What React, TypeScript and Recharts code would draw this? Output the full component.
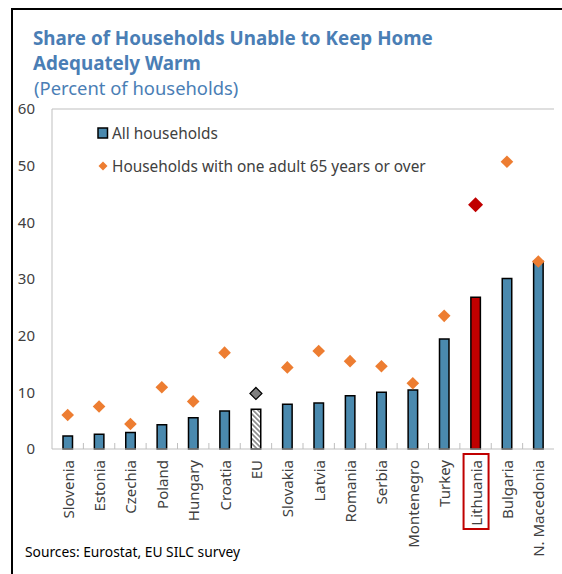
import React from "react"
import { ComposedChart, Bar, Scatter, Cell, XAxis, YAxis, ReferenceLine, Legend } from "recharts"

// values
const COUNTRIES = [
  "Slovenia", "Estonia", "Czechia", "Poland", "Hungary", "Croatia", "EU", "Slovakia",
  "Latvia", "Romania", "Serbia", "Montenegro", "Turkey", "Lithuania", "Bulgaria", "N. Macedonia",
]
const ALL_HOUSEHOLDS = [2.3, 2.6, 2.9, 4.3, 5.5, 6.7, 7.0, 7.9, 8.1, 9.4, 10.0, 10.4, 19.4, 26.8, 30.1, 33.1]
const ONE_ADULT_65 = [6.0, 7.5, 4.4, 10.9, 8.4, 17.0, 9.8, 14.4, 17.3, 15.5, 14.6, 11.6, 23.5, 43.1, 50.7, 33.1]
const Y_TICKS = [0, 10, 20, 30, 40, 50, 60]

const HIGHLIGHT = "Lithuania"
const AGGREGATE = "EU"

const BLUE = "#4a89ae"
const ORANGE = "#ed7d31"
const RED = "#c00000"
const FRAME = "#bfbfbf"
const TEXT = "#404040"
const TITLE = "#4a7eb5"
const FONT = "'Noto Sans', sans-serif"

const data = COUNTRIES.map((country, i) => ({
  country,
  all: ALL_HOUSEHOLDS[i],
  older: ONE_ADULT_65[i],
}))

function CountryTick(props: any) {
  const { x, y, payload, index, width, visibleTicksCount } = props
  const half = payload.offset ?? width / visibleTicksCount / 2
  const label = payload.value as string
  const isHighlight = label === HIGHLIGHT
  return (
    <g>
      {index > 0 && <line x1={x - half} x2={x - half} y1={y} y2={y - 6} stroke={FRAME} strokeWidth={1} />}
      <text
        x={x}
        y={y + 11}
        transform={`rotate(-90, ${x}, ${y + 11})`}
        textAnchor="end"
        dominantBaseline="central"
        fill={TEXT}
        fontSize={15}
        fontFamily={FONT}
      >
        {label}
      </text>
      {isHighlight && (
        <rect x={x - 12} y={y + 5} width={25} height={75} fill="none" stroke={RED} strokeWidth={2} />
      )}
    </g>
  )
}

function Diamond(props: any) {
  const { cx, cy, payload } = props
  if (cx == null || cy == null) return null
  let r = 6.3
  let fill = ORANGE
  let stroke = "none"
  if (payload.country === HIGHLIGHT) {
    r = 7.5
    fill = RED
  } else if (payload.country === AGGREGATE) {
    r = 6
    fill = "#7f7f7f"
    stroke = "#000"
  }
  return (
    <polygon
      points={`${cx},${cy - r} ${cx + r},${cy} ${cx},${cy + r} ${cx - r},${cy}`}
      fill={fill}
      stroke={stroke}
      strokeWidth={1.2}
    />
  )
}

function LegendBox() {
  const itemStyle: React.CSSProperties = {
    display: "flex",
    alignItems: "center",
    height: 22,
    fontFamily: FONT,
    fontSize: 15.4,
    color: TEXT,
    whiteSpace: "nowrap",
  }
  return (
    <div>
      <div style={itemStyle}>
        <svg width={14} height={12} style={{ marginRight: 2 }}>
          <rect x={2} y={1} width={9.5} height={10} fill={BLUE} stroke="#000" strokeWidth={1.5} />
        </svg>
        All households
      </div>
      <div style={{ ...itemStyle, marginTop: 11 }}>
        <svg width={14} height={12} style={{ marginRight: 2 }}>
          <polygon points="7,1.5 11.5,6 7,10.5 2.5,6" fill={ORANGE} />
        </svg>
        Households with one adult 65 years or over
      </div>
    </div>
  )
}

export default function App() {
  return (
    <div style={{ position: "absolute", left: 0, top: 0, width: 562, height: 574, background: "#fff", overflow: "hidden" }}>
      <svg width={0} height={0} style={{ position: "absolute" }}>
        <defs>
          <pattern id="hatch" width={3.5} height={3.5} patternUnits="userSpaceOnUse" patternTransform="rotate(-45)">
            <rect width={3.5} height={3.5} fill="#ffffff" />
            <rect width={1.7} height={3.5} fill="#8c8c8c" />
          </pattern>
        </defs>
      </svg>
      <div style={{ position: "absolute", left: 11, top: 8, right: 0, bottom: 0, borderTop: "2px solid #000", borderLeft: "2px solid #000" }} />
      <div style={{ position: "absolute", left: 33, top: 26, fontFamily: FONT, color: TITLE, fontWeight: 700, fontSize: 18.8, lineHeight: "25px" }}>
        Share of Households Unable to Keep Home
        <br />
        Adequately Warm
      </div>
      <div style={{ position: "absolute", left: 34, top: 76, fontFamily: FONT, color: TITLE, fontSize: 18.4, lineHeight: "24px" }}>
        (Percent of households)
      </div>
      <div style={{ position: "absolute", left: 25, top: 542, fontFamily: FONT, color: "#000", fontSize: 13.8, lineHeight: "20px" }}>
        Sources: Eurostat, EU SILC survey
      </div>
      <div style={{ position: "absolute", left: 0, top: 0 }}>
        <ComposedChart width={562} height={574} data={data} margin={{ top: 109, right: 8, bottom: 10, left: 12 }}>
          <XAxis
            dataKey="country"
            interval={0}
            height={115}
            tickLine={false}
            tickSize={0}
            tickMargin={0}
            axisLine={{ stroke: FRAME }}
            tick={<CountryTick />}
          />
          <YAxis
            yAxisId="left"
            domain={[0, 60]}
            ticks={Y_TICKS}
            width={40}
            tickLine={false}
            tickSize={6}
            tickMargin={11}
            axisLine={{ stroke: FRAME }}
            tick={{ fill: TEXT, fontSize: 15, fontFamily: FONT }}
          />
          <YAxis yAxisId="right" orientation="right" width={0} domain={[0, 60]} tick={false} tickLine={false} axisLine={{ stroke: FRAME }} />
          <ReferenceLine yAxisId="left" y={60} stroke={FRAME} />
          <Legend
            verticalAlign="middle"
            align="center"
            layout="vertical"
            content={<LegendBox />}
            wrapperStyle={{ top: 122, left: 96, width: 380, transform: "none" }}
          />
          <Bar yAxisId="left" dataKey="all" name="All households" barSize={9.5} isAnimationActive={false}>
            {data.map((d) => (
              <Cell
                key={d.country}
                fill={d.country === HIGHLIGHT ? RED : d.country === AGGREGATE ? "url(#hatch)" : BLUE}
                stroke="#000"
                strokeWidth={1.5}
              />
            ))}
          </Bar>
          <Scatter
            yAxisId="left"
            dataKey="older"
            name="Households with one adult 65 years or over"
            shape={<Diamond />}
            isAnimationActive={false}
          />
        </ComposedChart>
      </div>
    </div>
  )
}
